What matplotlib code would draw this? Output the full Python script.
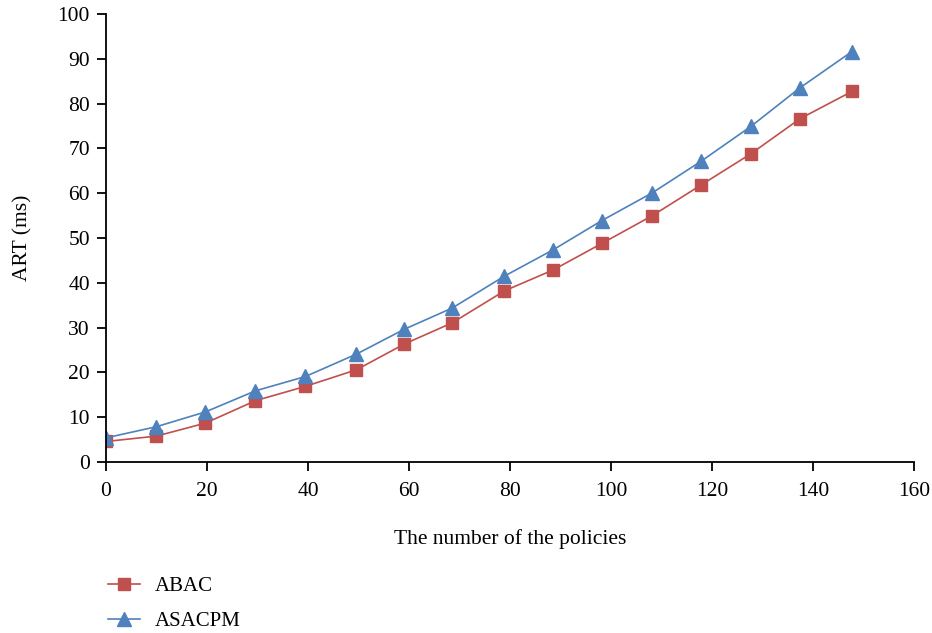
import matplotlib.pyplot as plt

# number of policies (x) and average response time (ms)
policies = [0, 10, 19.7, 29.6, 39.5, 49.6, 59, 68.6, 78.9, 88.6, 98.2, 108.2, 117.8, 127.7, 137.4, 147.7]
abac = [4.6, 5.8, 8.7, 13.7, 16.9, 20.6, 26.3, 31.1, 38.2, 42.9, 48.8, 55.0, 61.8, 68.8, 76.6, 82.7]
asacpm = [5.4, 7.9, 11.2, 15.9, 19.1, 24.1, 29.6, 34.4, 41.5, 47.4, 53.9, 60.1, 67.1, 74.9, 83.5, 91.6]

plt.rcParams['font.family'] = ['Liberation Serif', 'DejaVu Serif']

fig = plt.figure(figsize=(9.32, 6.33), dpi=100)
ax = fig.add_axes([0.1137, 0.270, 0.867, 0.708])

l1, = ax.plot(policies, abac, color='#C0504D', lw=1.2, marker='s', markersize=8.5, label='ABAC')
l2, = ax.plot(policies, asacpm, color='#4F81BD', lw=1.2, marker='^', markersize=10, label='ASACPM')

ax.set_xlim(0, 160)
ax.set_ylim(0, 100)
ax.set_xticks(range(0, 161, 20))
ax.set_yticks(range(0, 101, 10))
ax.spines['top'].set_visible(False)
ax.spines['right'].set_visible(False)
ax.spines['left'].set_linewidth(1.3)
ax.spines['bottom'].set_linewidth(1.3)
ax.tick_params(direction='out', length=6.5, width=1.3, labelsize=15.5)
ax.tick_params(axis='x', pad=8)
ax.tick_params(axis='y', pad=5)

ax.set_xlabel('The number of the policies', fontsize=15.5)
ax.set_ylabel('ART (ms)', fontsize=15.5)
ax.xaxis.set_label_coords(0.5, -0.15)
ax.yaxis.set_label_coords(-0.091, 0.5)

fig.legend(handles=[l1, l2], loc='center left', bbox_to_anchor=(0.1159, 0.046), frameon=False,
           fontsize=15, handlelength=1.55, labelspacing=0.75, handletextpad=0.7,
           borderpad=0, borderaxespad=0)

fig.savefig('out.png', dpi=100)
